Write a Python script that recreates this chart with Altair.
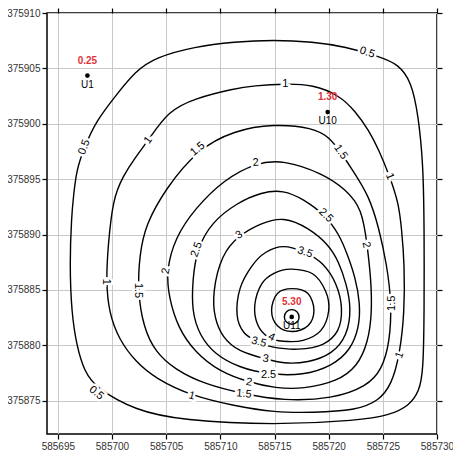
import altair as alt
import pandas as pd

# ---- axes -------------------------------------------------------------
X_DOMAIN = [585694, 585730]
Y_DOMAIN = [375872, 375910]
x_ticks = [585695, 585700, 585705, 585710, 585715, 585720, 585725, 585730]
y_ticks = [375875, 375880, 375885, 375890, 375895, 375900, 375905, 375910]

# ---- contour vertices (easting, northing) -----------------------------
c05_x = [585714.91, 585718.55, 585721.55, 585724.64, 585726.45, 585727.64, 585728.27, 585728.73,
         585728.82, 585728.82, 585728.73, 585728.36, 585727.45, 585725.55, 585722.82, 585715.0,
         585706.45, 585702.18, 585698.55, 585697.45, 585696.73, 585696.27, 585696.09, 585696.27,
         585696.45, 585696.73, 585697.45, 585698.55, 585700.36, 585702.18, 585704.0, 585707.64, 585711.27]
c05_y = [375907.58, 375907.40, 375906.96, 375906.08, 375905.38, 375903.79, 375900.80, 375896.39,
         375890.58, 375882.92, 375877.63, 375875.87, 375874.55, 375873.67, 375873.23, 375872.79,
         375873.23, 375874.11, 375876.14, 375877.63, 375880.01, 375882.92, 375887.32, 375891.73,
         375893.49, 375895.87, 375897.89, 375900.27, 375902.56, 375904.76, 375905.99, 375906.96, 375907.40]

c10_x = [585716.0, 585718.55, 585721.0, 585722.45, 585723.73, 585724.64, 585725.64, 585726.45,
         585726.73, 585727.0, 585727.0, 585726.55, 585725.82, 585724.64, 585722.45, 585718.55,
         585715.0, 585711.27, 585707.36, 585704.0, 585702.18, 585700.64, 585699.73, 585699.45,
         585699.64, 585700.09, 585701.0, 585702.18, 585703.36, 585705.18, 585707.64, 585711.27, 585713.09]
c10_y = [375903.62, 375903.53, 375902.56, 375901.15, 375899.39, 375897.63, 375895.25, 375892.87,
         375890.58, 375887.32, 375882.92, 375879.13, 375876.49, 375874.99, 375874.11, 375873.94,
         375873.94, 375874.55, 375875.43, 375877.02, 375878.52, 375880.54, 375882.92, 375885.74,
         375889.08, 375893.22, 375895.25, 375897.01, 375898.51, 375901.15, 375902.29, 375903.17, 375903.44]

c15_x = [585714.91, 585718.55, 585720.09, 585721.09, 585722.18, 585723.73, 585724.64, 585725.36,
         585725.82, 585725.64, 585724.91, 585723.55, 585720.36, 585715.82, 585712.18, 585708.55,
         585705.82, 585704.0, 585702.91, 585702.36, 585702.55, 585703.09, 585704.91, 585707.91, 585711.27]
c15_y = [375900.0, 375899.65, 375898.77, 375897.45, 375895.87, 375893.49, 375890.58, 375887.32,
         375883.80, 375880.28, 375877.81, 375876.31, 375875.17, 375874.99, 375875.61, 375876.49,
         375877.81, 375879.40, 375881.60, 375884.95, 375888.20, 375890.85, 375894.10, 375897.71, 375899.39]

c20_x = [585713.27, 585715.82, 585719.45, 585721.55, 585723.09, 585723.55, 585723.91, 585724.0,
         585723.64, 585722.64, 585720.82, 585717.64, 585715.09, 585712.64, 585709.91, 585707.64,
         585706.09, 585705.27, 585705.0, 585705.82, 585707.64, 585710.36]
c20_y = [375896.48, 375896.75, 375895.51, 375894.10, 375892.34, 375889.08, 375886.00, 375882.92,
         375880.28, 375878.08, 375876.75, 375876.05, 375876.14, 375876.67, 375877.63, 375879.40,
         375881.60, 375884.24, 375886.71, 375889.70, 375892.34, 375894.98]

c25_x = [585715.82, 585717.64, 585719.73, 585721.0, 585721.73, 585722.45, 585722.91, 585722.82,
         585722.0, 585720.36, 585717.64, 585714.45, 585711.73, 585709.45, 585708.09, 585707.36,
         585707.45, 585707.82, 585709.18, 585711.55, 585713.82]
c25_y = [375894.02, 375893.22, 375891.73, 375889.96, 375888.20, 375886.18, 375883.80, 375881.60,
         375879.57, 375878.16, 375877.28, 375877.37, 375877.99, 375879.22, 375880.89, 375883.10,
         375886.00, 375888.64, 375891.11, 375892.87, 375893.84]

c30_x = [585715.82, 585718.18, 585720.0, 585720.91, 585721.64, 585722.09, 585721.73, 585720.36,
         585718.09, 585715.82, 585714.18, 585711.73, 585710.18, 585709.45, 585709.27, 585710.09,
         585711.73, 585713.73]
c30_y = [375891.64, 375890.58, 375889.08, 375887.59, 375885.56, 375883.36, 375880.89, 375879.22,
         375878.43, 375878.34, 375878.78, 375879.40, 375880.72, 375882.48, 375884.68, 375888.20,
         375889.96, 375891.02]

c35_x = [585715.82, 585717.82, 585719.45, 585720.64, 585721.18, 585720.82, 585719.45, 585717.18,
         585714.91, 585713.55, 585712.18, 585711.55, 585711.82, 585712.91, 585714.18]
c35_y = [375888.91, 375888.38, 375887.32, 375885.56, 375883.36, 375881.33, 375880.10, 375879.66,
         375879.84, 375880.28, 375881.16, 375882.74, 375885.12, 375887.15, 375888.38]

c40_x = [585716.55, 585718.55, 585719.73, 585720.0, 585719.27, 585717.64, 585715.82, 585714.45,
         585713.45, 585713.18, 585713.82, 585715.0]
c40_y = [375886.88, 375886.44, 375884.86, 375883.10, 375881.33, 375880.45, 375880.37, 375880.72,
         375881.86, 375883.62, 375885.56, 375886.53]

c45_x = [585716.64, 585718.09, 585718.64, 585718.09, 585716.64, 585715.27, 585714.73, 585715.27]
c45_y = [375885.12, 375884.68, 375883.18, 375881.77, 375881.25, 375881.77, 375883.18, 375884.68]

c50_x = [585716.59, 585717.07, 585717.27, 585717.07, 585716.59, 585716.11, 585715.91, 585716.11]
c50_y = [375883.23, 375883.04, 375882.57, 375882.10, 375881.91, 375882.10, 375882.57, 375883.04]

outer_rings = {
    "0.5": (c05_x, c05_y), "1": (c10_x, c10_y), "1.5": (c15_x, c15_y),
    "2": (c20_x, c20_y), "2.5": (c25_x, c25_y), "3": (c30_x, c30_y),
}
inner_rings = {
    "3.5": (c35_x, c35_y), "4": (c40_x, c40_y), "4.5": (c45_x, c45_y),
    "5": (c50_x, c50_y),
}

# ---- contour labels ----------------------------------------------------
lab_text = ["0.5", "0.5", "0.5", "1", "1", "1", "1", "1", "1",
            "1.5", "1.5", "1.5", "1.5", "1.5", "2", "2", "2", "2",
            "2.5", "2.5", "2.5", "3", "3", "3.5", "3.5", "4"]
lab_x = [585697.45, 585698.55, 585723.55, 585703.36, 585716.0, 585725.64, 585726.55, 585707.36, 585699.45,
         585707.91, 585721.09, 585725.82, 585712.18, 585702.36, 585713.27, 585723.45, 585712.64, 585705.0,
         585707.82, 585719.73, 585714.45, 585711.73, 585714.18, 585717.82, 585713.55, 585714.73]
lab_y = [375897.89, 375875.70, 375906.43, 375898.51, 375903.62, 375895.25, 375879.13, 375875.43, 375885.74,
         375897.71, 375897.45, 375883.80, 375875.61, 375884.95, 375896.48, 375889.08, 375876.67, 375886.71,
         375888.64, 375891.73, 375877.37, 375889.96, 375878.78, 375888.38, 375880.28, 375880.72]
lab_angle = [290, 40, 18, 305, 0, 68, 290, 15, 90,
             320, 55, 270, 5, 90, 355, 78, 10, 280,
             290, 45, 0, 330, 8, 20, 15, 25]

# ---- wells -------------------------------------------------------------
well_name = ["U1", "U10", "U11"]
well_x = [585697.73, 585719.91, 585716.59]
well_y = [375904.35, 375901.06, 375882.57]
well_value = ["0.25", "1.30", "5.30"]


# ---- tables --------------------------------------------------------------
def ring_table(rings):
    rows = []
    for lev, (xs_, ys_) in rings.items():
        for i, (a, b) in enumerate(zip(xs_, ys_)):
            rows.append({"level": lev, "i": i, "x": a, "y": b})
    return pd.DataFrame(rows)


outer_df = ring_table(outer_rings)
inner_df = ring_table(inner_rings)
labels_df = pd.DataFrame({"text": lab_text, "x": lab_x, "y": lab_y, "angle": lab_angle})
wells_df = pd.DataFrame({"name": well_name, "x": well_x, "y": well_y, "value": well_value})

FONT = "Liberation Sans"
xs = alt.Scale(domain=X_DOMAIN, nice=False, zero=False)
ys = alt.Scale(domain=Y_DOMAIN, nice=False, zero=False)

common_axis = dict(title=None, domain=False, tickColor="black", tickSize=5, tickWidth=1.2,
                   labelFont=FONT, labelFontSize=10, labelColor="#333333", labelPadding=2,
                   gridColor="#c8c8c8", gridWidth=1)

x_bottom = alt.Axis(orient="bottom", values=x_ticks, format="d", grid=True, labelFlush=False, **common_axis)
y_left = alt.Axis(orient="left", values=y_ticks, format="d", grid=True, labelFlush=False, **common_axis)
x_top = alt.Axis(orient="top", values=x_ticks, labels=False, grid=False, **common_axis)
y_right = alt.Axis(orient="right", values=y_ticks, labels=False, grid=False, **common_axis)

lines_outer = alt.Chart(outer_df).mark_line(
    interpolate="basis-closed", color="black", strokeWidth=1.4
).encode(
    x=alt.X("x:Q", scale=xs, axis=x_bottom),
    y=alt.Y("y:Q", scale=ys, axis=y_left),
    detail="level:N",
    order="i:Q",
)

lines_inner = alt.Chart(inner_df).mark_line(
    interpolate="cardinal-closed", color="black", strokeWidth=1.4
).encode(
    x=alt.X("x:Q", scale=xs, axis=None),
    y=alt.Y("y:Q", scale=ys, axis=None),
    detail="level:N",
    order="i:Q",
)

halo = alt.Chart(labels_df).mark_text(
    font=FONT, fontSize=11, color="white", stroke="white", strokeWidth=5,
    baseline="middle", align="center"
).encode(
    x=alt.X("x:Q", scale=xs, axis=x_top),
    y=alt.Y("y:Q", scale=ys, axis=y_right),
    text="text:N",
    angle=alt.Angle("angle:Q", scale=None),
)

lab = alt.Chart(labels_df).mark_text(
    font=FONT, fontSize=11, color="black", baseline="middle", align="center"
).encode(
    x=alt.X("x:Q", scale=xs, axis=None),
    y=alt.Y("y:Q", scale=ys, axis=None),
    text="text:N",
    angle=alt.Angle("angle:Q", scale=None),
)

dots = alt.Chart(wells_df).mark_circle(size=22, color="black", opacity=1).encode(
    x=alt.X("x:Q", scale=xs, axis=None),
    y=alt.Y("y:Q", scale=ys, axis=None),
)

names = alt.Chart(wells_df).mark_text(
    font=FONT, fontSize=10, color="black", dy=9, baseline="middle", align="center"
).encode(
    x=alt.X("x:Q", scale=xs, axis=None),
    y=alt.Y("y:Q", scale=ys, axis=None),
    text="name:N",
)

values = alt.Chart(wells_df).mark_text(
    font=FONT, fontSize=10, fontWeight="bold", color="#e0333a", dy=-15,
    baseline="middle", align="center"
).encode(
    x=alt.X("x:Q", scale=xs, axis=None),
    y=alt.Y("y:Q", scale=ys, axis=None),
    text="value:N",
)

chart = alt.layer(lines_outer, lines_inner, halo, lab, dots, names, values).resolve_axis(
    x="independent", y="independent"
).properties(
    width=390, height=421,
    autosize=alt.AutoSizeParams(type="none"),
    padding={"left": 39, "top": 5, "right": 16, "bottom": 20},
).configure_view(stroke="black", strokeWidth=1.5)

chart.save("out.html", embed_options={"renderer": "svg", "actions": False})
